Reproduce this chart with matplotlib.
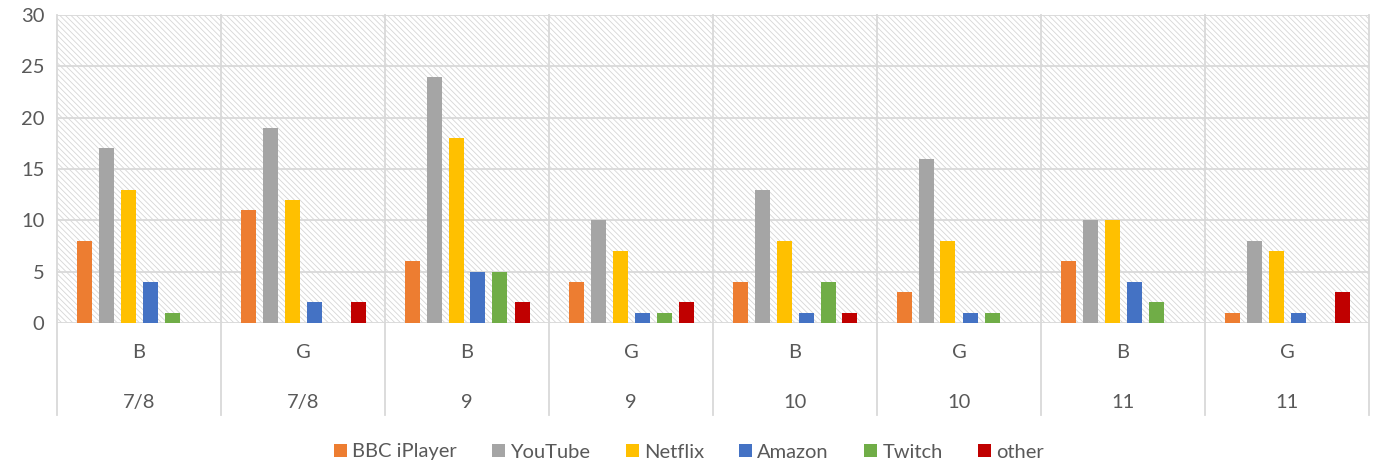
import matplotlib
matplotlib.use("Agg")
import matplotlib.pyplot as plt
from matplotlib.patches import Rectangle, Patch
import numpy as np

groups = ["B", "G", "B", "G", "B", "G", "B", "G"]
years = ["7/8", "7/8", "9", "9", "10", "10", "11", "11"]
series = ["BBC iPlayer", "YouTube", "Netflix", "Amazon", "Twitch", "other"]
bbc = [8, 11, 6, 4, 4, 3, 6, 1]
youtube = [17, 19, 24, 10, 13, 16, 10, 8]
netflix = [13, 12, 18, 7, 8, 8, 10, 7]
amazon = [4, 2, 5, 1, 1, 1, 4, 1]
twitch = [1, 0, 5, 1, 4, 1, 2, 0]
other = [0, 2, 2, 2, 1, 0, 0, 3]
values = [bbc, youtube, netflix, amazon, twitch, other]
colors = ["#ED7D31", "#A5A5A5", "#FFC000", "#4472C4", "#70AD47", "#C00000"]

plt.rcParams['font.family'] = ['Lato', 'DejaVu Sans']
plt.rcParams['hatch.linewidth'] = 0.6

W, H = 1378, 467
fig = plt.figure(figsize=(W / 100, H / 100), dpi=100)
x0, x1, ytop, ybot = 57, 1369, 15, 323
ax = fig.add_axes([x0 / W, 1 - ybot / H, (x1 - x0) / W, (ybot - ytop) / H])

n = len(groups)
ax.set_xlim(-0.5, n - 0.5)
ax.set_ylim(0, 30)

grid_c = "#D9D9D9"
ax.add_patch(Rectangle((0, 0), 1, 1, transform=ax.transAxes, facecolor="white",
                       edgecolor="#D6D6D6", hatch="\\\\\\\\\\\\", linewidth=0, zorder=0))

for y in range(5, 31, 5):
    ax.axhline(y, color=grid_c, lw=1.3, zorder=1)
for b in np.arange(-0.5, n, 1.0):
    ax.plot([b, b], [-0.30, 1], transform=ax.get_xaxis_transform(), color=grid_c,
            lw=1.3, clip_on=False, zorder=1)
ax.plot([-0.5, n - 0.5], [0, 0], color=grid_c, lw=1.3, zorder=1)

slot = 22 / 164
bw = 15 / 164
x = np.arange(n)
for i, (vals, c, name) in enumerate(zip(values, colors, series)):
    ax.bar(x + (i - 2.5) * slot, vals, width=bw, color=c, zorder=3, label=name)

for s in ax.spines.values():
    s.set_visible(False)
ax.set_xticks([])
ax.set_yticks(range(0, 31, 5))
ax.tick_params(axis='y', length=0, pad=9, labelsize=14.5, labelcolor="#595959")

trans = ax.get_xaxis_transform()
for i in range(n):
    ax.text(i, -0.095, groups[i], transform=trans, ha="center", va="center",
            fontsize=14.5, color="#595959")
    ax.text(i, -0.257, years[i], transform=trans, ha="center", va="center",
            fontsize=14.5, color="#595959")

handles = [Patch(facecolor=c, edgecolor="none") for c in colors]
fig.legend(handles, series, loc="center", bbox_to_anchor=(0.5, 1 - 452 / H),
           ncol=6, frameon=False, fontsize=14.5, handlelength=0.65, handleheight=0.65,
           handletextpad=0.25, columnspacing=1.75, labelcolor="#595959")

fig.savefig("out.png", dpi=100)
